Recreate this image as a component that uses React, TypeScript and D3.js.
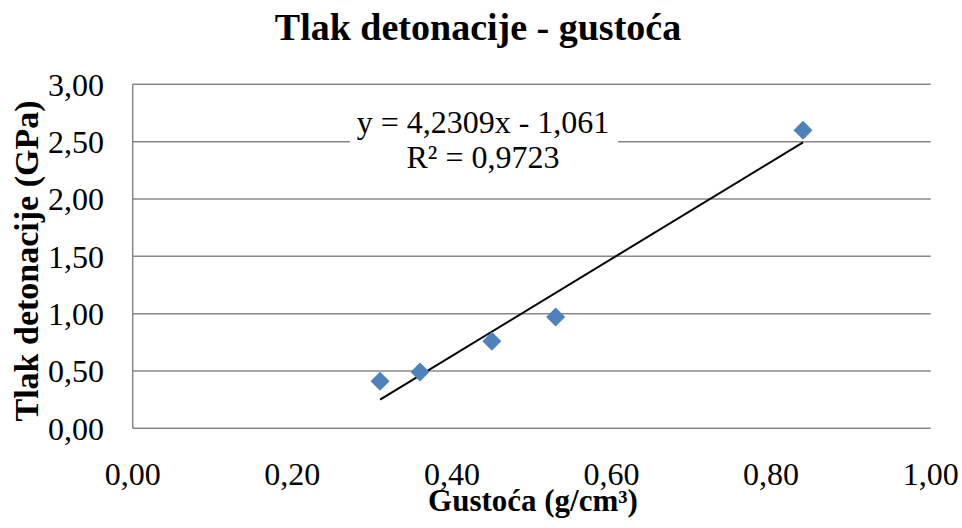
import React from "react";
import * as d3 from "d3";

const W = 962;
const H = 528;

const density = [0.31, 0.36, 0.45, 0.53, 0.84];
const pressure = [0.41, 0.49, 0.76, 0.97, 2.6];
const xTicks = [0, 0.2, 0.4, 0.6, 0.8, 1.0];
const yTicks = [0, 0.5, 1.0, 1.5, 2.0, 2.5, 3.0];
const slope = 4.2309;
const intercept = -1.061;
const eqLines = ["y = 4,2309x - 1,061", "R² = 0,9723"];

const title = "Tlak detonacije - gustoća";
const yTitle = "Tlak detonacije (GPa)";
const xTitle = "Gustoća (g/cm³)";

const fmt = (v: number) => v.toFixed(2).replace(".", ",");

export default function App() {
  const left = 132.7;
  const right = 930.7;
  const top = 84.3;
  const bottom = 428.3;
  const x = d3.scaleLinear().domain([0, 1]).range([left, right]);
  const y = d3.scaleLinear().domain([0, 3]).range([bottom, top]);
  const ff = { fontFamily: "Liberation Serif, Tinos, Times New Roman, serif" };
  const grid = "#888888";

  const xMin = d3.min(density)!;
  const xMax = d3.max(density)!;
  const trend = d3.line<number>()
    .x((d) => x(d))
    .y((d) => y(slope * d + intercept))([xMin, xMax]);

  const r = 9.5;
  const diamond = (cx: number, cy: number) =>
    `M${cx},${cy - r}L${cx + r},${cy}L${cx},${cy + r}L${cx - r},${cy}Z`;

  return (
    <svg width={W} height={H} style={{ position: "absolute", left: 0, top: 0, ...ff }}>
      <rect width={W} height={H} fill="#ffffff" />
      {yTicks.map((t) => (
        <line key={"g" + t} x1={left} x2={right} y1={y(t)} y2={y(t)} stroke={grid} strokeWidth={1.5} />
      ))}
      <line x1={left} x2={left} y1={top} y2={bottom} stroke={grid} strokeWidth={1.5} />
      {yTicks.map((t) => (
        <text key={"y" + t} style={ff} x={104} y={y(t)} dy="0.35em" textAnchor="end" fontSize={32} fill="#000">
          {fmt(t)}
        </text>
      ))}
      {xTicks.map((t) => (
        <text key={"x" + t} style={ff} x={x(t)} y={485} textAnchor="middle" fontSize={32} fill="#000">
          {fmt(t)}
        </text>
      ))}
      <path d={trend || ""} stroke="#000" strokeWidth={2} fill="none" />
      {density.map((d, i) => (
        <path key={"p" + i} d={diamond(x(d), y(pressure[i]))} fill="#4F81BD" />
      ))}
      <rect x={350} y={106} width={268} height={70} fill="#ffffff" />
      {eqLines.map((s, i) => (
        <text key={"e" + i} style={ff} x={483} y={133 + i * 35} textAnchor="middle" fontSize={32} fill="#000">
          {s}
        </text>
      ))}
      <text style={ff} x={478} y={40} textAnchor="middle" fontSize={38} fontWeight="bold" fill="#000">
        {title}
      </text>
      <text style={ff} transform={`translate(38,261) rotate(-90)`} textAnchor="middle" fontSize={34} fontWeight="bold" fill="#000">
        {yTitle}
      </text>
      <text style={ff} x={533} y={511} textAnchor="middle" fontSize={31} fontWeight="bold" fill="#000">
        {xTitle}
      </text>
    </svg>
  );
}
